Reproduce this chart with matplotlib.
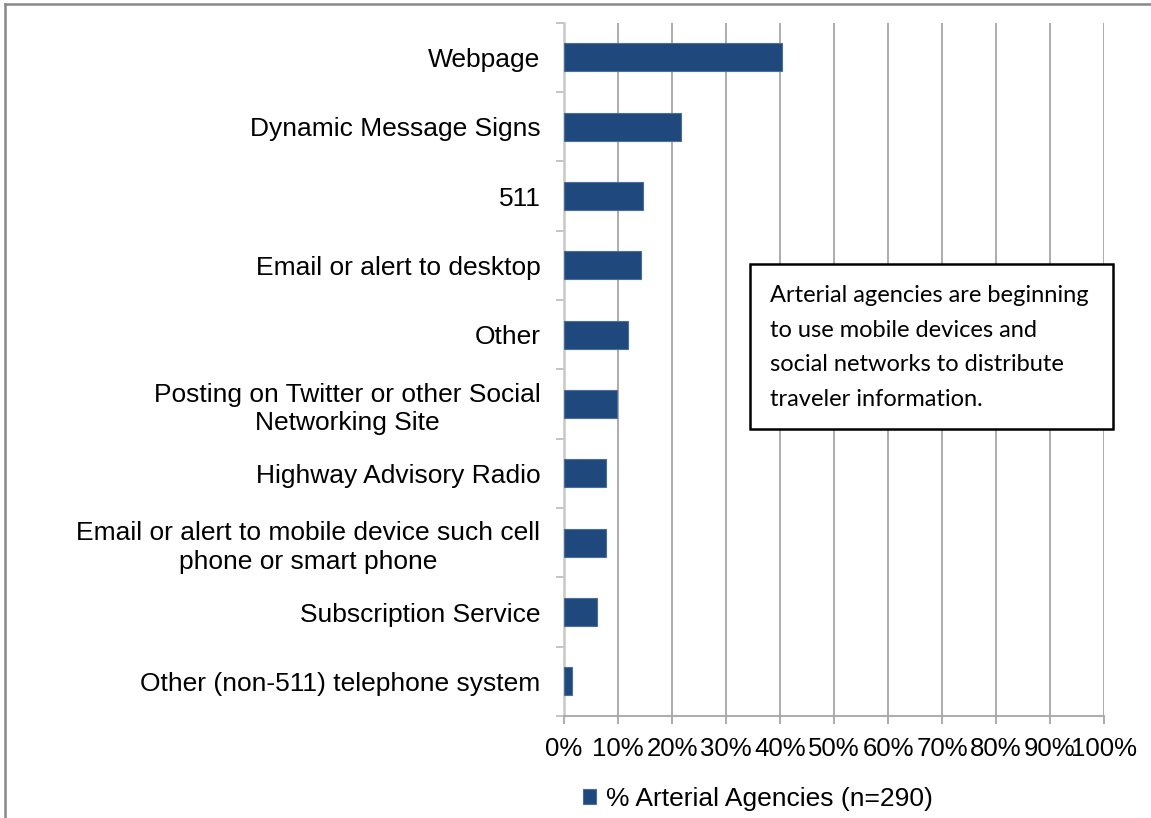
import matplotlib.pyplot as plt
from matplotlib.patches import Rectangle
from matplotlib.lines import Line2D
import numpy as np

# survey results, top to bottom
categories = [
    'Webpage',
    'Dynamic Message Signs',
    '511',
    'Email or alert to desktop',
    'Other',
    'Posting on Twitter or other Social\nNetworking Site',
    'Highway Advisory Radio',
    'Email or alert to mobile device such cell\nphone or smart phone',
    'Subscription Service',
    'Other (non-511) telephone system',
]
pct_arterial = [40.4, 21.7, 14.6, 14.3, 11.9, 9.8, 7.7, 7.7, 6.2, 1.5]
x_ticks = [0, 10, 20, 30, 40, 50, 60, 70, 80, 90, 100]
series_name = '% Arterial Agencies (n=290)'
note = ('Arterial agencies are beginning\n'
        'to use mobile devices and\n'
        'social networks to distribute\n'
        'traveler information.')

plt.rcParams['font.family'] = ['Liberation Sans', 'DejaVu Sans']

W, H = 1151, 818
fig = plt.figure(figsize=(W / 100, H / 100), dpi=100)
ax = fig.add_axes([564 / W, 1 - 716 / H, 540 / W, (716 - 22.7) / H])

bar_color = '#1F497D'
y = np.arange(len(categories))
ax.barh(y, pct_arterial, height=0.4, color=bar_color,
        edgecolor='#4a6d9a', linewidth=0.8, zorder=3, label=series_name)

ax.set_ylim(len(categories) - 0.5, -0.5)
ax.set_xlim(0, 100)

# gridlines
ax.set_xticks(x_ticks)
ax.set_xticklabels([f'{t}%' for t in x_ticks], fontsize=18.5)
ax.grid(axis='x', color='#a6a6a6', linewidth=1.3, zorder=0)
ax.set_axisbelow(True)

ax.set_yticks(y)
ax.set_yticklabels(categories, fontsize=19, linespacing=1.25)
for lbl in ax.get_yticklabels():
    lbl.set_multialignment('center')
ax.set_yticks(np.arange(-0.5, len(categories), 1), minor=True)
ax.tick_params(axis='y', which='major', length=0, pad=17)
ax.tick_params(axis='y', which='minor', length=6, width=1.3, color='#bfbfbf')
ax.tick_params(axis='x', which='major', length=6, width=1.3, color='#a6a6a6',
               pad=9, labelcolor='black')

for s in ['top', 'right']:
    ax.spines[s].set_visible(False)
ax.spines['left'].set_color('#c8c8c8')
ax.spines['left'].set_linewidth(1.8)
ax.spines['bottom'].set_color('#a6a6a6')
ax.spines['bottom'].set_linewidth(1.3)

# legend below the axis
fig.legend(loc='center', bbox_to_anchor=(758 / W, 1 - 799 / H), frameon=False,
           fontsize=19, handlelength=0.5, handleheight=0.5, handletextpad=0.4)

# annotation box
fig.add_artist(Rectangle((750 / W, 1 - 429 / H), 363 / W, 165 / H,
                         transform=fig.transFigure, facecolor='white',
                         edgecolor='black', linewidth=1.8, zorder=5))
fig.text(770 / W, 1 - 285 / H, note, fontsize=17, family=['Lato', 'DejaVu Sans'],
         va='top', ha='left', linespacing=1.8, zorder=6)

# outer frame (left and top only)
fig.add_artist(Line2D([5 / W, 5 / W], [0, 1 - 4 / H], transform=fig.transFigure,
                      color='#888888', linewidth=1.8))
fig.add_artist(Line2D([5 / W, 1], [1 - 4 / H, 1 - 4 / H], transform=fig.transFigure,
                      color='#888888', linewidth=1.8))

plt.savefig('out.png', dpi=100)
